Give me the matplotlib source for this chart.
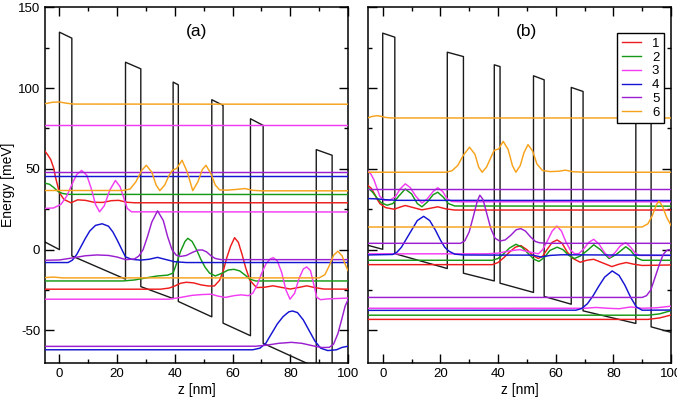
import matplotlib
matplotlib.use("Agg")
import matplotlib.pyplot as plt
from matplotlib.ticker import MultipleLocator
from matplotlib.lines import Line2D

plt.rcParams["font.family"] = ["Liberation Sans", "DejaVu Sans"]
plt.rcParams["axes.unicode_minus"] = False

# ── conduction band profiles (z [nm], E [meV]) ─────────────────────────────
profile_a = [(-5, 4.7), (0, 0), (0, 134.6), (4.3, 130.9), (4.3, -3.9), (22.9, -18.3),
             (22.9, 116), (28.2, 111.9), (28.2, -22.9), (39.4, -30.3), (39.4, 103.7),
             (41.2, 102), (41.2, -32.1), (52.8, -41.6), (52.8, 92.8), (56.7, 89.3),
             (56.7, -45.5), (66.2, -53.3), (66.2, 81), (70.6, 76.9), (70.6, -58),
             (89, -73), (89, 61.9), (94.5, 58.4), (94.5, -77), (100, -81)]

profile_b = [(-5, 2.6), (0, 0.2), (0, 134), (4.2, 131.5), (4.2, -2.5), (22.4, -11.7),
             (22.4, 122.2), (28, 119.5), (28, -14.6), (38.7, -19.4), (38.7, 114.4),
             (40.7, 113.3), (40.7, -20.8), (52.3, -26.5), (52.3, 107.6), (56, 105.1),
             (56, -29), (65.4, -33.8), (65.4, 100.4), (69.5, 97.9), (69.5, -37.9),
             (87.8, -45.7), (87.8, 89), (93.1, 86.5), (93.1, -47.8), (100, -51.2)]

# ── panel (a) : states 1..6 (red, green, magenta, blue, purple, orange) ─────
a_red_1 = [(-5, 60.9), (-4, 58.5), (-3, 55.7), (-2, 50.5), (-1.3, 44.4), (0, 35.2), (1.6, 31),
           (4, 29), (6.3, 30.8), (9, 30.5), (12, 29.3), (15, 29.2), (18, 30.3), (20.5, 30.5),
           (23.5, 29.3), (26, 29), (100, 29)]
a_red_2 = [(-5, -24.5), (35, -24.5), (38, -23.8), (40, -22.5), (42, -20.8), (44, -20.2),
           (46.5, -20.6), (49, -21.8), (51.5, -22.5), (53.7, -22.5), (55.5, -19), (56.8, -13),
           (58, -5), (59.3, 2), (60.7, 7.4), (62, 4.5), (63.3, -3), (64.5, -11), (66, -19),
           (68.3, -23.5), (71, -23.3), (74, -22.4), (77, -23.4), (80, -24.4), (83, -23.4),
           (85.7, -22.4), (88.5, -23.5), (91.6, -24.4), (100, -24.5)]

a_green_1 = [(-5, 41.1), (-3.5, 40.5), (-2, 38.5), (-0.5, 36), (1, 34.8), (3, 34.2), (100, 34.1)]
a_green_2 = [(-5, -19.4), (22, -19.4), (26, -18.8), (30, -17.5), (34, -16.3), (37.5, -15.8),
             (39.4, -14.5), (40.5, -9), (42, -1), (43.5, 5), (44.5, 7), (46, 5), (47.5, 0),
             (49, -6), (50.5, -11), (52, -14.5), (54, -16.3), (56.5, -14.5), (58.5, -12.6),
             (60.5, -12.2), (62.5, -13.2), (64.5, -16), (66, -18.3), (68, -19.4), (100, -19.4)]

a_magenta_1 = [(-5, 76.9), (100, 76.9)]
a_magenta_2 = [(-5, 25.5), (-2, 25.8), (0.5, 28), (2.5, 33), (4.5, 41), (6, 46.5), (7.7, 49),
               (9.5, 46), (11, 38), (12.5, 28), (13.9, 23.4), (15.5, 27), (17.5, 37),
               (19.4, 42.8), (21, 39), (22.5, 31), (23.5, 25.5), (25, 23.4), (100, 23.3)]
a_magenta_3 = [(-5, -30.7), (38, -30.7), (42, -29.6), (46, -28.3), (49.5, -27.8), (52.6, -27.6),
               (55, -28.8), (57.5, -29.6), (60.5, -28.5), (63, -28), (65.5, -28.5), (67, -27),
               (68.5, -22), (70, -15), (71.5, -9), (73, -5.8), (74.1, -5), (75.5, -7), (77, -14),
               (78.5, -25), (79.9, -30.7), (81.5, -27), (83, -18), (84.5, -12), (85.7, -10.7),
               (87, -13), (88.2, -22), (89.2, -29.6), (90.5, -31), (93, -30.5), (100, -30)]

a_blue_1 = [(-5, 45.8), (100, 45.8)]
a_blue_2 = [(-5, -8), (3, -8), (4.5, -6.5), (6, -3), (7.5, 2), (9, 7), (10.5, 11.5), (12.5, 15),
            (14.8, 16), (17, 14.5), (18.5, 11), (20, 6), (21.5, 0.5), (22.9, -4.5), (25, -6),
            (28, -6.5), (31, -6), (34, -4.8), (37, -6.2), (40, -7.5), (44, -8), (100, -8)]
a_blue_3 = [(-5, -62), (67, -62), (69.5, -61), (71.5, -58), (73.5, -52), (75.5, -46),
            (77.5, -41.5), (79.5, -38.5), (80.8, -38), (82.5, -39), (84.5, -43.5), (86.5, -50),
            (88.5, -56.5), (90.5, -61), (93, -62.5), (96, -62), (98, -60.5), (100, -59.8)]

a_purple_1 = [(-5, 47.9), (100, 47.9)]
a_purple_2 = [(-5, -6.6), (0, -6.4), (5, -5), (9, -3.8), (13, -3.3), (17, -3.6), (20, -4.6),
              (23, -6.2), (26, -5.8), (27.5, -4), (29, 0), (30.5, 8), (32, 17), (34, 24), (36, 18),
              (37.5, 8), (39, 0), (40.5, -3.5), (42, -4.2), (44, -3.6), (46, -1.8), (48, -0.3),
              (49.5, -0.2), (51, -1.4), (52.5, -3.8), (54, -5.5), (56, -6.2), (100, -6.2)]
a_purple_3 = [(-5, -59.9), (68, -59.8), (72, -59.1), (76, -58), (80.4, -57.4), (84, -58),
              (88.5, -59.8), (91, -60.6), (93.5, -60.5), (95, -58.5), (96.5, -52), (98, -42),
              (99, -35), (100, -31)]

a_orange_1 = [(-5, 90.3), (-2.5, 91.2), (0, 91.4), (2.5, 90.6), (5, 90.1), (100, 90.0)]
a_orange_2 = [(-5, 36.6), (22, 36.6), (24.5, 37.5), (26.5, 42), (28.5, 49), (30.1, 52.2), (32, 48),
              (33.5, 40), (34.8, 36.5), (36.5, 40), (38, 46), (39.2, 49.2), (40.6, 50.2),
              (42.5, 55.3), (44.3, 48), (46.2, 36.5), (48, 42), (49.5, 49.5), (50.8, 52.2),
              (52.5, 47), (54, 40), (55.5, 37), (58, 36.8), (61, 37.2), (64.2, 37.8), (67, 36.7),
              (70, 36.4), (100, 36.4)]
a_orange_3 = [(-5, -17.3), (-2, -17.0), (1, -17.5), (90, -17.5), (92, -15.5), (93.5, -10),
              (95, -3.5), (96.5, -1), (98, -4), (99, -9), (100, -13)]

# ── panel (b) ───────────────────────────────────────────────────────────────
b_red_1 = [(-5, 39.5), (-4, 38), (-3, 35), (-2, 31.5), (-1, 28.5), (1, 26), (4, 25), (6, 26.3),
           (7.8, 27.3), (10, 26.3), (13.6, 24.6), (16.5, 25.6), (19.1, 26.5), (22, 25.2),
           (25, 24.5), (100, 24.5)]
b_red_2 = [(-5, -9.3), (38, -9.3), (40, -8), (42, -5), (44, -1.5), (46, 1.5), (47.9, 2.5), (50, 0),
           (52, -3.5), (54, -5.5), (55.5, -4), (57, 0), (58.8, 4.5), (60.5, 6), (62.2, 4),
           (64, -1.5), (66, -5.5), (68.5, -7.8), (71, -6.5), (73.2, -6), (76, -8), (79.5, -10.5),
           (82, -9), (84.5, -8), (87, -9), (90, -9.8), (100, -9.5)]
b_red_3 = [(-5, -43.2), (92, -43.2), (96, -42.3), (100, -40.5)]

b_green_1 = [(-5, 38), (-3.5, 35.5), (-2, 32), (-0.5, 29), (1.5, 27.5), (3.5, 28.5), (5.5, 33),
             (7.8, 37.5), (10, 34.5), (12, 28.5), (13.6, 26.5), (15.5, 29.5), (17.5, 34),
             (19.1, 35.5), (21, 32.5), (22.8, 28.5), (25, 27), (100, 26.9)]
b_green_2 = [(-5, -6.6), (38, -6.6), (40, -5.5), (42, -2.5), (44, 1), (46.2, 3.3), (48.3, 1.5),
             (50.5, -2.5), (52.5, -6), (54.2, -7.3), (56, -5), (58, -0.5), (60.5, 1.5), (62.5, 0),
             (64.5, -3.5), (66.5, -5.5), (68.5, -4), (71, -0.5), (73.2, 3), (75.5, 0), (78.5, -5.5),
             (81, -3), (84.3, 1.8), (86, -0.5), (88, -5), (90, -6.6), (100, -6.6)]
b_green_3 = [(-5, -40.6), (92, -40.6), (96, -39.8), (100, -37.8)]

b_magenta_1 = [(-5, 48.5), (-4, 46.5), (-3, 43), (-2, 38), (-1, 33), (0.5, 30.5), (2.5, 30.5),
               (4.5, 33), (6, 37.5), (7.8, 40.7), (9.5, 38.5), (11.5, 33), (13.6, 28.8),
               (15.5, 31.5), (17.5, 36), (19.1, 38.3), (20.8, 36), (22.3, 31.5), (24, 29.8),
               (27, 29.6), (100, 29.6)]
b_magenta_2 = [(-5, -2.6), (36, -2.6), (40, -2.2), (44, -0.8), (47.5, 0), (51, -1.5), (54, -2.6),
               (55.5, 0), (57, 5), (58.8, 11.5), (60.4, 14.6), (62, 11.5), (63.5, 5), (65, 0),
               (66.5, -2.5), (68, -2.5), (69.5, 0), (71.5, 4.5), (73.2, 6.4), (75, 3.5), (77, -2),
               (78.7, -4.8), (80.5, -2), (82.5, 2.5), (84.3, 4.3), (86, 1.5), (87.5, -2),
               (89, -3.6), (100, -3.6)]
b_magenta_3 = [(-5, -36.3), (70, -36.3), (74, -35.8), (78, -36.3), (82, -36.6), (86, -35.5),
               (90, -36.3), (95, -36), (100, -35)]

b_blue_1 = [(-5, 31.6), (-2, 31.4), (1, 30.9), (5, 30.5), (100, 30.4)]
b_blue_2 = [(-5, -3.3), (3.5, -3), (5, -1.5), (6.5, 1.5), (8, 6), (10, 12), (12, 18), (14.2, 20.6),
            (16.3, 18), (18.3, 12), (20, 6), (21.5, 1.5), (23, -1), (25, -2.8), (28, -3.3),
            (40, -3.4), (52, -3.4), (55, -4.6), (58, -3.6), (62, -3.2), (100, -3.5)]
b_blue_3 = [(-5, -37.6), (67, -37.5), (69, -36.5), (71, -33.5), (73, -28.5), (75, -22.5),
            (77, -17), (79.6, -13.2), (82, -16), (84, -22), (86, -29.5), (88, -35.5), (90, -37.5),
            (100, -37.4)]

b_purple_1 = [(-5, 37.6), (100, 37.6)]
b_purple_2 = [(-5, 3.9), (27, 3.9), (28.5, 5.5), (30, 11), (31.5, 21), (32.8, 30), (33.7, 33.7),
              (34.8, 31), (36, 23), (37.5, 13), (39, 7), (40.6, 5.3), (42.5, 6), (44.5, 9),
              (46.3, 12.3), (47.9, 13), (49.5, 11.5), (51.2, 8), (53, 5), (54.5, 4.2), (57, 3.9),
              (100, 3.9)]
b_purple_3 = [(-5, -29.6), (90, -29.6), (91.5, -28.5), (93, -25), (94.5, -17), (96, -9),
              (97.3, -3), (98.5, -0.5), (99.3, 0), (100, -0.5)]

b_orange_1 = [(-5, 81.7), (-3.5, 82.5), (-2, 82.9), (-0.5, 82.5), (1, 81.8), (3, 81.5), (100, 81.5)]
b_orange_2 = [(-5, 47.9), (22, 47.9), (24, 48.8), (26, 52), (28, 58.5), (30.1, 63.4), (32, 59),
              (33.3, 51), (34.5, 47.9), (36, 51), (37.5, 57), (38.7, 61.5), (40.2, 62.3),
              (41.8, 67), (43.5, 62), (45, 52), (46.2, 47.9), (47.7, 52), (49, 60), (50.4, 65),
              (52, 61), (53.5, 53), (55.4, 49), (58, 48.3), (61, 48.5), (63.4, 49.2), (66, 48.2),
              (70, 47.9), (100, 47.9)]
b_orange_3 = [(-5, 14), (90, 14), (92, 16), (93.5, 21), (95, 28), (95.8, 30), (97, 27),
              (98.5, 20), (100, 15)]

state_labels = ["1", "2", "3", "4", "5", "6"]
state_colors = ["#ee1c1c", "#169a16", "#f23cf2", "#1414d2", "#9b1fd0", "#f7a21b"]

states_a = [[a_red_1, a_red_2], [a_green_1, a_green_2],
            [a_magenta_1, a_magenta_2, a_magenta_3], [a_blue_1, a_blue_2, a_blue_3],
            [a_purple_1, a_purple_2, a_purple_3], [a_orange_1, a_orange_2, a_orange_3]]
states_b = [[b_red_1, b_red_2, b_red_3], [b_green_1, b_green_2, b_green_3],
            [b_magenta_1, b_magenta_2, b_magenta_3], [b_blue_1, b_blue_2, b_blue_3],
            [b_purple_1, b_purple_2, b_purple_3], [b_orange_1, b_orange_2, b_orange_3]]


def unzip(pts):
    return [p[0] for p in pts], [p[1] for p in pts]


def style_axis(ax, show_ylabels):
    ax.set_xlim(-5, 100)
    ax.set_ylim(-70, 150)
    ax.xaxis.set_major_locator(MultipleLocator(20))
    ax.xaxis.set_minor_locator(MultipleLocator(10))
    ax.yaxis.set_major_locator(MultipleLocator(50))
    ax.yaxis.set_minor_locator(MultipleLocator(25))
    ax.tick_params(which="both", direction="in", top=True, right=True,
                   labelsize=9.5, colors="black", width=1.0)
    ax.tick_params(which="major", length=6.5)
    ax.tick_params(which="minor", length=3)
    if not show_ylabels:
        ax.tick_params(labelleft=False)
    for sp in ax.spines.values():
        sp.set_linewidth(1.1)


def draw_panel(ax, profile, states):
    z, e = unzip(profile)
    ax.plot(z, e, color="#1a1a1a", lw=1.0, zorder=2)
    for copies, color in zip(states, state_colors):
        for pts in copies:
            z, e = unzip(pts)
            ax.plot(z, e, color=color, lw=1.05, zorder=3)


fig = plt.figure(figsize=(6.77, 4.04), dpi=100)
H = 404.0
W = 677.0
bottom = 1 - 362.7 / H
height = 355.4 / H
ax_a = fig.add_axes([45 / W, bottom, 303 / W, height])
ax_b = fig.add_axes([368.3 / W, bottom, 302.7 / W, height])

draw_panel(ax_a, profile_a, states_a)
draw_panel(ax_b, profile_b, states_b)
style_axis(ax_a, True)
style_axis(ax_b, False)

ax_a.text(0.5, 0.931, "(a)", transform=ax_a.transAxes, ha="center", va="center", fontsize=12.5)
ax_b.text(0.523, 0.931, "(b)", transform=ax_b.transAxes, ha="center", va="center", fontsize=12.5)

fig.text(196.5 / W, 1 - 390 / H, "z [nm]", ha="center", va="center", fontsize=10)
fig.text(519.7 / W, 1 - 390 / H, "z [nm]", ha="center", va="center", fontsize=10)
fig.text(8.5 / W, 1 - 185 / H, "Energy [meV]", ha="center", va="center", rotation=90, fontsize=10)

handles = [Line2D([0], [0], color=c, lw=1.0) for c in state_colors]
leg = ax_b.legend(handles, state_labels, loc="upper right", bbox_to_anchor=(0.977, 0.928),
                  borderaxespad=0, fontsize=9.5, handlelength=1.5, handletextpad=0.8,
                  labelspacing=0.12, borderpad=0.35, fancybox=False, framealpha=1,
                  edgecolor="black")
leg.get_frame().set_linewidth(1.0)

fig.savefig("out.png", dpi=100)
